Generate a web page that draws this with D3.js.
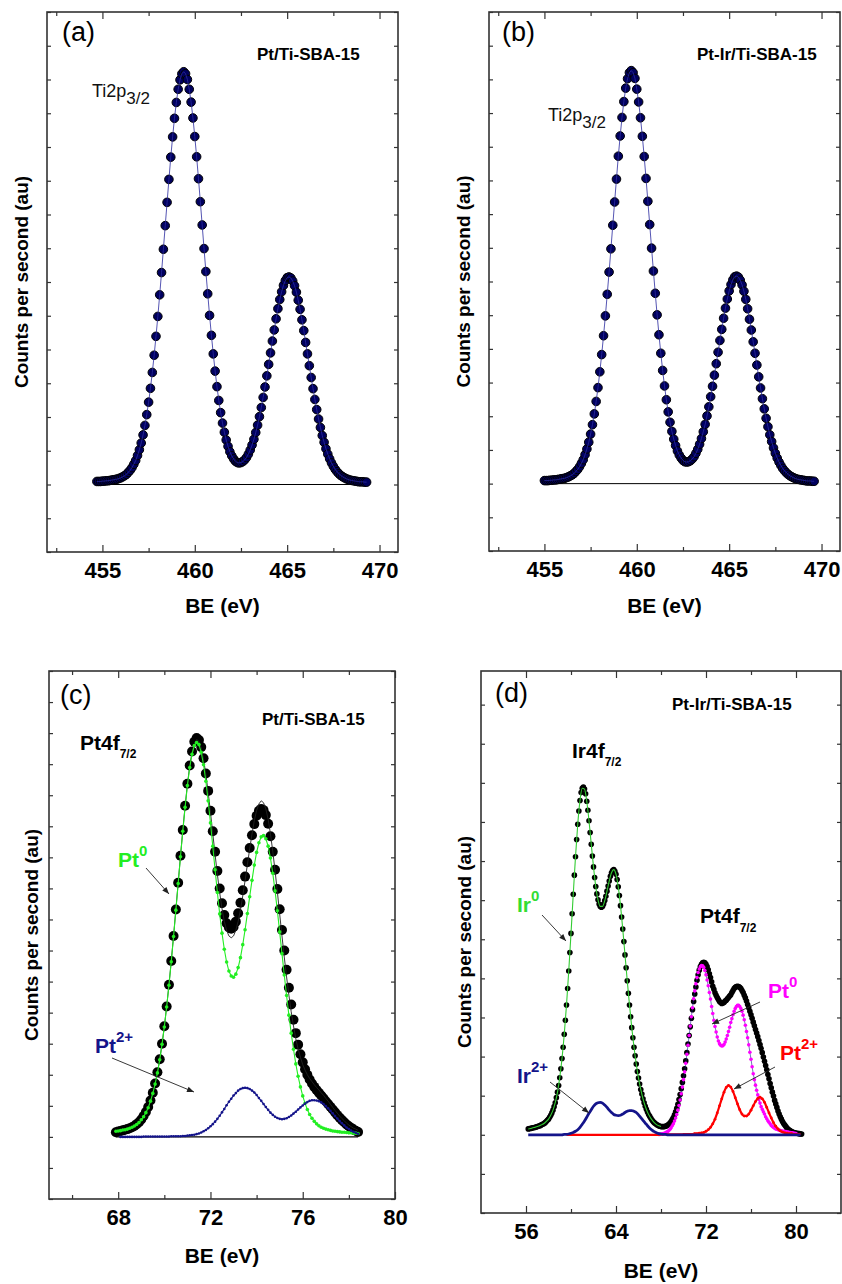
<!DOCTYPE html>
<html>
<head>
<meta charset="utf-8">
<script src="https://cdn.jsdelivr.net/npm/d3@7"></script>
<style>
  html, body { margin: 0; padding: 0; background: #fff; }
  svg { display: block; }
</style>
</head>
<body>
<svg id="chart" width="842" height="1284"></svg>
<script>
// ---- (a) Pt/Ti-SBA-15, Ti2p region: BE grid start/step + counts ----
const beStartA = 454.7, beStepA = 0.1;
const countsA = [
  0.09, 0.09, 0.09, 0.10, 0.10, 0.11, 0.11, 0.12, 0.13, 0.14,
  0.15, 0.16, 0.18, 0.20, 0.23, 0.26, 0.30, 0.36, 0.42, 0.50,
  0.60, 0.71, 0.86, 1.03, 1.23, 1.47, 1.75, 2.07, 2.44, 2.85,
  3.32, 3.83, 4.39, 4.98, 5.62, 6.28, 6.97, 7.67, 8.36, 9.04,
  9.70, 10.30, 10.85, 11.32, 11.71, 11.99, 12.17, 12.23, 12.17, 12.00,
  11.71, 11.33, 10.86, 10.31, 9.71, 9.06, 8.38, 7.69, 6.99, 6.31,
  5.65, 5.01, 4.42, 3.87, 3.36, 2.90, 2.49, 2.13, 1.82, 1.55,
  1.32, 1.13, 0.97, 0.85, 0.76, 0.69, 0.65, 0.64, 0.65, 0.68,
  0.73, 0.80, 0.90, 1.02, 1.17, 1.34, 1.54, 1.76, 2.01, 2.28,
  2.58, 2.89, 3.22, 3.56, 3.90, 4.25, 4.58, 4.91, 5.21, 5.48,
  5.71, 5.90, 6.04, 6.13, 6.15, 6.12, 6.03, 5.89, 5.70, 5.46,
  5.19, 4.88, 4.56, 4.21, 3.87, 3.52, 3.17, 2.84, 2.52, 2.22,
  1.94, 1.69, 1.45, 1.25, 1.06, 0.90, 0.76, 0.64, 0.54, 0.45,
  0.38, 0.32, 0.27, 0.23, 0.20, 0.17, 0.15, 0.13, 0.12, 0.11,
  0.10, 0.09, 0.08, 0.08, 0.08, 0.07, 0.07
];

// ---- (b) Pt-Ir/Ti-SBA-15, Ti2p region ----
const beStartB = 455.0, beStepB = 0.1;
const countsB = [
  0.09, 0.09, 0.09, 0.10, 0.10, 0.11, 0.11, 0.12, 0.13, 0.14,
  0.15, 0.16, 0.18, 0.20, 0.23, 0.26, 0.30, 0.36, 0.42, 0.50,
  0.60, 0.71, 0.86, 1.03, 1.23, 1.47, 1.75, 2.07, 2.44, 2.85,
  3.32, 3.83, 4.39, 4.98, 5.62, 6.28, 6.97, 7.67, 8.36, 9.04,
  9.72, 10.32, 10.87, 11.34, 11.74, 12.02, 12.20, 12.26, 12.20, 12.03,
  11.71, 11.33, 10.86, 10.31, 9.71, 9.06, 8.38, 7.69, 6.99, 6.31,
  5.65, 5.01, 4.42, 3.87, 3.36, 2.90, 2.49, 2.13, 1.82, 1.55,
  1.32, 1.13, 0.97, 0.85, 0.76, 0.69, 0.65, 0.64, 0.65, 0.68,
  0.73, 0.80, 0.90, 1.02, 1.17, 1.34, 1.54, 1.76, 2.01, 2.28,
  2.58, 2.89, 3.22, 3.56, 3.90, 4.25, 4.58, 4.91, 5.21, 5.48,
  5.72, 5.91, 6.05, 6.14, 6.16, 6.13, 6.04, 5.90, 5.71, 5.47,
  5.19, 4.88, 4.56, 4.21, 3.87, 3.52, 3.17, 2.84, 2.52, 2.22,
  1.94, 1.69, 1.45, 1.25, 1.06, 0.90, 0.76, 0.64, 0.54, 0.45,
  0.38, 0.32, 0.27, 0.23, 0.20, 0.17, 0.15, 0.13, 0.12, 0.11,
  0.10, 0.09, 0.08, 0.08, 0.08, 0.07, 0.07
];

// ---- (c) Pt/Ti-SBA-15, Pt4f region ----
const beStartC = 67.9, beStepC = 0.1;
const countsC = [
  0.15, 0.17, 0.19, 0.21, 0.23, 0.25, 0.28, 0.31, 0.35, 0.41,
  0.47, 0.56, 0.67, 0.80, 0.96, 1.17, 1.42, 1.72, 2.08, 2.50,
  3.00, 3.56, 4.20, 4.90, 5.66, 6.47, 7.32, 8.18, 9.05, 9.88,
  10.66, 11.37, 11.96, 12.41, 12.72, 12.84, 12.78, 12.55, 12.19, 11.70,
  11.14, 10.50, 9.84, 9.18, 8.56, 8.00, 7.52, 7.14, 6.88, 6.74,
  6.70, 6.76, 6.93, 7.20, 7.54, 7.94, 8.38, 8.84, 9.30, 9.71,
  10.07, 10.34, 10.50, 10.56, 10.52, 10.36, 10.08, 9.68, 9.18, 8.60,
  7.98, 7.33, 6.66, 6.00, 5.38, 4.80, 4.26, 3.77, 3.34, 2.97,
  2.66, 2.40, 2.18, 2.00, 1.85, 1.72, 1.61, 1.51, 1.42, 1.33,
  1.24, 1.15, 1.06, 0.97, 0.88, 0.79, 0.70, 0.62, 0.54, 0.47,
  0.40, 0.34, 0.29, 0.24, 0.20, 0.16
];
const pt0C = [
  0.18, 0.19, 0.20, 0.22, 0.23, 0.25, 0.28, 0.31, 0.35, 0.40,
  0.46, 0.55, 0.65, 0.78, 0.94, 1.15, 1.40, 1.70, 2.06, 2.48,
  2.98, 3.54, 4.18, 4.88, 5.64, 6.45, 7.30, 8.16, 9.02, 9.84,
  10.61, 11.31, 11.89, 12.32, 12.60, 12.70, 12.63, 12.38, 11.98, 11.45,
  10.82, 10.11, 9.36, 8.60, 7.87, 7.18, 6.56, 6.04, 5.63, 5.34,
  5.18, 5.14, 5.24, 5.45, 5.77, 6.19, 6.67, 7.19, 7.73, 8.26,
  8.75, 9.16, 9.47, 9.66, 9.70, 9.60, 9.36, 8.98, 8.49, 7.92,
  7.28, 6.60, 5.90, 5.21, 4.55, 3.92, 3.34, 2.82, 2.35, 1.95,
  1.61, 1.32, 1.08, 0.88, 0.72, 0.60, 0.50, 0.42, 0.36, 0.31,
  0.28, 0.25, 0.23, 0.21, 0.19, 0.18, 0.17, 0.16, 0.15, 0.15,
  0.14, 0.13, 0.13, 0.12, 0.12, 0.11
];
const pt2StartC = 68.1;
const pt2C = [
  0, 0, 0, 0, 0, 0, 0, 0, 0, 0,
  0.01, 0.01, 0.01, 0.01, 0.01, 0.01, 0.01, 0.01, 0.01, 0.01,
  0.01, 0.01, 0.02, 0.02, 0.02, 0.02, 0.02, 0.03, 0.03, 0.04,
  0.05, 0.06, 0.07, 0.09, 0.11, 0.14, 0.18, 0.22, 0.28, 0.34,
  0.41, 0.49, 0.58, 0.68, 0.79, 0.90, 1.02, 1.13, 1.23, 1.33,
  1.41, 1.49, 1.54, 1.57, 1.58, 1.57, 1.54, 1.49, 1.43, 1.35,
  1.25, 1.16, 1.06, 0.96, 0.87, 0.78, 0.71, 0.65, 0.61, 0.58,
  0.57, 0.58, 0.60, 0.64, 0.69, 0.75, 0.81, 0.88, 0.95, 1.01,
  1.07, 1.12, 1.16, 1.18, 1.18, 1.17, 1.15, 1.11, 1.06, 0.99,
  0.92, 0.84, 0.76, 0.67, 0.59, 0.51, 0.44, 0.37, 0.30, 0.25,
  0.20, 0.16, 0.13, 0.10
];

// ---- (d) Pt-Ir/Ti-SBA-15, Ir4f + Pt4f region ----
const beStartD = 56.2, beStepD = 0.1;
const countsD = [
  0.15, 0.16, 0.16, 0.17, 0.18, 0.18, 0.19, 0.20, 0.21, 0.22,
  0.23, 0.24, 0.26, 0.27, 0.29, 0.31, 0.34, 0.37, 0.40, 0.45,
  0.50, 0.56, 0.63, 0.72, 0.82, 0.95, 1.09, 1.26, 1.46, 1.69,
  1.95, 2.24, 2.57, 2.93, 3.32, 3.74, 4.19, 4.66, 5.15, 5.65,
  6.15, 6.64, 7.11, 7.55, 7.94, 8.28, 8.55, 8.75, 8.86, 8.89,
  8.84, 8.72, 8.53, 8.30, 8.03, 7.73, 7.43, 7.13, 6.85, 6.58,
  6.35, 6.16, 6.01, 5.90, 5.84, 5.82, 5.84, 5.90, 5.99, 6.10,
  6.23, 6.36, 6.49, 6.61, 6.70, 6.76, 6.78, 6.74, 6.66, 6.53,
  6.34, 6.12, 5.86, 5.57, 5.26, 4.94, 4.60, 4.27, 3.94, 3.62,
  3.32, 3.02, 2.74, 2.48, 2.24, 2.02, 1.81, 1.62, 1.45, 1.30,
  1.16, 1.04, 0.92, 0.82, 0.73, 0.65, 0.58, 0.52, 0.47, 0.42,
  0.38, 0.34, 0.31, 0.29, 0.26, 0.25, 0.23, 0.22, 0.21, 0.21,
  0.21, 0.21, 0.22, 0.23, 0.25, 0.27, 0.30, 0.34, 0.39, 0.44,
  0.51, 0.59, 0.68, 0.78, 0.90, 1.03, 1.18, 1.34, 1.51, 1.69,
  1.89, 2.10, 2.32, 2.54, 2.76, 2.98, 3.20, 3.41, 3.60, 3.78,
  3.95, 4.09, 4.21, 4.30, 4.36, 4.40, 4.41, 4.40, 4.36, 4.30,
  4.22, 4.12, 4.02, 3.91, 3.80, 3.72, 3.63, 3.57, 3.51, 3.46,
  3.41, 3.38, 3.36, 3.37, 3.38, 3.42, 3.44, 3.48, 3.51, 3.55,
  3.58, 3.64, 3.69, 3.74, 3.77, 3.79, 3.80, 3.79, 3.77, 3.74,
  3.69, 3.64, 3.57, 3.50, 3.42, 3.33, 3.25, 3.16, 3.07, 2.98,
  2.88, 2.79, 2.69, 2.60, 2.51, 2.41, 2.31, 2.21, 2.10, 1.99,
  1.88, 1.77, 1.66, 1.54, 1.43, 1.31, 1.20, 1.09, 0.99, 0.88,
  0.79, 0.70, 0.61, 0.53, 0.46, 0.40, 0.34, 0.29, 0.25, 0.21,
  0.17, 0.14, 0.12, 0.10, 0.08, 0.07, 0.06, 0.05, 0.04, 0.04,
  0.03, 0.03, 0.02, 0.02
];
const irFitStartD = 56.2, irFitStepD = 0.2;
const irFitD = [
  0.15, 0.16, 0.18, 0.19, 0.21, 0.23, 0.26, 0.29, 0.34, 0.40,
  0.50, 0.63, 0.82, 1.09, 1.46, 1.95, 2.57, 3.32, 4.19, 5.15,
  6.15, 7.11, 7.94, 8.55, 8.86, 8.84, 8.53, 8.03, 7.43, 6.85,
  6.35, 6.01, 5.84, 5.84, 5.99, 6.23, 6.49, 6.70, 6.78, 6.66,
  6.34, 5.86, 5.26, 4.60, 3.94, 3.32, 2.74, 2.24, 1.81, 1.45,
  1.16, 0.92, 0.73, 0.58, 0.47, 0.38, 0.31, 0.26, 0.23, 0.21
];
const ir2StartD = 56.2, ir2StepD = 0.2;
const ir2D = [
  0, 0, 0, 0, 0, 0, 0, 0, 0, 0,
  0, 0, 0, 0, 0, 0, 0.01, 0.01, 0.02, 0.04,
  0.06, 0.09, 0.13, 0.19, 0.27, 0.35, 0.45, 0.55, 0.64, 0.73,
  0.79, 0.82, 0.83, 0.81, 0.76, 0.70, 0.63, 0.57, 0.52, 0.50,
  0.49, 0.50, 0.53, 0.57, 0.60, 0.62, 0.62, 0.60, 0.57, 0.51,
  0.44, 0.37, 0.30, 0.23, 0.17, 0.12, 0.08, 0.05, 0.03, 0.02,
  0.01, 0.01, 0, 0, 0, 0, 0, 0, 0, 0,
  0, 0, 0, 0, 0, 0, 0, 0, 0, 0,
  0, 0, 0, 0, 0, 0, 0, 0, 0, 0,
  0, 0, 0, 0, 0, 0, 0, 0, 0, 0,
  0, 0, 0, 0, 0, 0, 0, 0, 0, 0,
  0, 0, 0, 0, 0, 0, 0, 0, 0, 0,
  0, 0
];
const pt0StartD = 67.8, pt0StepD = 0.1;
const pt0D = [
  0.01, 0.01, 0.02, 0.02, 0.03, 0.04, 0.05, 0.07, 0.08, 0.11,
  0.14, 0.18, 0.23, 0.28, 0.35, 0.43, 0.52, 0.63, 0.75, 0.89,
  1.05, 1.22, 1.41, 1.61, 1.83, 2.06, 2.29, 2.54, 2.78, 3.02,
  3.25, 3.48, 3.68, 3.86, 4.02, 4.15, 4.24, 4.30, 4.33, 4.32,
  4.28, 4.20, 4.09, 3.96, 3.81, 3.64, 3.47, 3.28, 3.10, 2.93,
  2.77, 2.63, 2.50, 2.40, 2.33, 2.29, 2.27, 2.28, 2.31, 2.37,
  2.45, 2.54, 2.64, 2.75, 2.87, 2.97, 3.07, 3.16, 3.23, 3.28,
  3.31, 3.31, 3.28, 3.23, 3.16, 3.06, 2.94, 2.80, 2.64, 2.48,
  2.30, 2.11, 1.93, 1.74, 1.56, 1.41, 1.27, 1.14, 1.02, 0.90,
  0.81, 0.72, 0.65, 0.59, 0.53, 0.46, 0.41, 0.36, 0.32, 0.28,
  0.24, 0.21, 0.19, 0.17, 0.15, 0.14, 0.13, 0.12, 0.11, 0.10,
  0.09, 0.09, 0.08, 0.08, 0.07, 0.07, 0.06, 0.06, 0.05, 0.05,
  0.04, 0.04, 0.03
];
const pt2StartD = 59.6, pt2StepD = 0.2;
const pt2D = [
  0, 0, 0, 0, 0, 0, 0, 0, 0, 0,
  0, 0, 0, 0, 0, 0, 0, 0, 0, 0,
  0, 0, 0, 0, 0, 0, 0, 0, 0, 0,
  0, 0, 0, 0, 0, 0, 0, 0, 0, 0,
  0, 0,
  0.01, 0.01, 0.01, 0.01, 0.01, 0.01, 0.01, 0.01, 0.01, 0.01,
  0.02, 0.02, 0.02, 0.02, 0.02, 0.03, 0.03, 0.04, 0.05, 0.06,
  0.09, 0.13, 0.19, 0.28, 0.40, 0.56, 0.74, 0.92, 1.09, 1.21,
  1.26, 1.22, 1.11, 0.95, 0.79, 0.64, 0.53, 0.48, 0.48, 0.53,
  0.63, 0.74, 0.85, 0.93, 0.96, 0.92, 0.83, 0.70, 0.56, 0.43,
  0.31, 0.22, 0.15, 0.10, 0.07, 0.05, 0.04, 0.03, 0.03, 0.02,
  0.02, 0.02, 0.02
];

// ---- axis ticks ----
const ticksTi = [455, 460, 465, 470];
const minorTi = [452.5, 457.5, 462.5, 467.5];
const ticksC = [68, 72, 76, 80];
const minorC = [66, 70, 74, 78];
const ticksD = [56, 64, 72, 80];
const minorD = [60, 68, 76];

const FONT = '"Liberation Sans", Arial, Helvetica, sans-serif';
const NAVY = '#14148a';
const svg = d3.select('#chart');

const toPoints = (start, step, values) =>
  values.map((v, i) => ({ x: +(start + i * step).toFixed(2), y: v }));

// arrow head
svg.append('defs').append('marker')
  .attr('id', 'arrow')
  .attr('viewBox', '0 0 10 10')
  .attr('refX', 10).attr('refY', 5)
  .attr('markerWidth', 8).attr('markerHeight', 7)
  .attr('markerUnits', 'userSpaceOnUse')
  .attr('orient', 'auto')
  .append('path')
  .attr('d', 'M0,1 L10,5 L0,9 Z')
  .attr('fill', '#222');

function makePanel(p) {
  const g = svg.append('g').attr('transform', `translate(${p.left},${p.top})`);
  const x = d3.scaleLinear().domain(p.xDomain).range([0, p.width]);
  const y = d3.scaleLinear().domain(p.yDomain).range([p.height, 0]);

  const yTicks = d3.range(p.yDomain[0], p.yDomain[1] + 1e-6, 1);
  const clean = sel => {
    sel.select('.domain').remove();
    sel.selectAll('line').attr('stroke', '#333').attr('stroke-width', 1.2);
  };

  // bottom axis, labelled
  g.append('g')
    .attr('transform', `translate(0,${p.height})`)
    .call(d3.axisBottom(x).tickValues(p.xMajor).tickSizeInner(-7).tickSizeOuter(0)
      .tickPadding(10).tickFormat(d3.format('d')))
    .call(clean)
    .call(s => s.selectAll('text')
      .attr('font-size', 22).attr('font-weight', 'bold')
      .attr('font-family', FONT).attr('fill', '#000'));
  g.append('g')
    .attr('transform', `translate(0,${p.height})`)
    .call(d3.axisBottom(x).tickValues(p.xMinor).tickSizeInner(-4).tickSizeOuter(0).tickFormat(''))
    .call(clean);

  // top mirror ticks
  g.append('g')
    .call(d3.axisTop(x).tickValues(p.xMajor).tickSizeInner(-7).tickSizeOuter(0).tickFormat(''))
    .call(clean);
  g.append('g')
    .call(d3.axisTop(x).tickValues(p.xMinor).tickSizeInner(-4).tickSizeOuter(0).tickFormat(''))
    .call(clean);

  // left / right ticks without labels
  g.append('g')
    .call(d3.axisLeft(y).tickValues(yTicks).tickSizeInner(-4).tickSizeOuter(0).tickFormat(''))
    .call(clean);
  g.append('g')
    .attr('transform', `translate(${p.width},0)`)
    .call(d3.axisRight(y).tickValues(yTicks).tickSizeInner(-4).tickSizeOuter(0).tickFormat(''))
    .call(clean);

  g.append('rect')
    .attr('width', p.width).attr('height', p.height)
    .attr('fill', 'none').attr('stroke', '#333').attr('stroke-width', 1.6);

  // axis titles
  g.append('text')
    .attr('x', p.width / 2).attr('y', p.height + p.xTitleGap)
    .attr('text-anchor', 'middle')
    .attr('font-family', FONT).attr('font-size', 21).attr('font-weight', 'bold')
    .text('BE (eV)');
  g.append('text')
    .attr('transform', `translate(${-p.yTitleGap},${p.height / 2}) rotate(-90)`)
    .attr('text-anchor', 'middle')
    .attr('font-family', FONT).attr('font-size', 19).attr('font-weight', 'bold')
    .text('Counts per second (au)');

  return { g, x, y };
}

function plotLine(pn, pts, color, width, curve) {
  pn.g.append('path')
    .datum(pts)
    .attr('fill', 'none')
    .attr('stroke', color)
    .attr('stroke-width', width)
    .attr('d', d3.line().x(d => pn.x(d.x)).y(d => pn.y(d.y)).curve(curve || d3.curveLinear));
}

function plotDots(pn, pts, r, fill, stroke, sw) {
  pn.g.append('g')
    .selectAll('circle')
    .data(pts)
    .join('circle')
    .attr('cx', d => pn.x(d.x))
    .attr('cy', d => pn.y(d.y))
    .attr('r', r)
    .attr('fill', fill)
    .attr('stroke', stroke || 'none')
    .attr('stroke-width', sw || 0);
}

// text with optional sub/superscript parts
function richText(g, x, y, parts, color, weight) {
  const t = g.append('text')
    .attr('x', x).attr('y', y)
    .attr('font-family', FONT)
    .attr('font-weight', weight || 'bold')
    .attr('fill', color || '#000');
  parts.forEach(pt => {
    t.append('tspan').attr('dy', pt.dy || 0).attr('font-size', pt.size).text(pt.text);
  });
  return t;
}

function arrow(g, x1, y1, x2, y2) {
  g.append('line')
    .attr('x1', x1).attr('y1', y1).attr('x2', x2).attr('y2', y2)
    .attr('stroke', '#222').attr('stroke-width', 0.9)
    .attr('marker-end', 'url(#arrow)');
}

function panelLetter(g, x, y, s) {
  g.append('text').attr('x', x).attr('y', y)
    .attr('font-family', FONT).attr('font-size', 27)
    .text(s);
}

// ---------------- (a) ----------------
const pa = makePanel({ left: 47, top: 12, width: 351, height: 540,
  xDomain: [452, 471], yDomain: [-2, 14], xMajor: ticksTi, xMinor: minorTi,
  xTitleGap: 61, yTitleGap: 19 });
const ptsA = toPoints(beStartA, beStepA, countsA);
plotLine(pa, [{ x: ptsA[0].x, y: 0 }, { x: ptsA[ptsA.length - 1].x, y: 0 }], '#000', 1);
plotDots(pa, ptsA, 4.3, '#00005e', '#000', 1);
plotLine(pa, ptsA, '#2a2aa0', 0.8);
panelLetter(pa.g, 15, 29, '(a)');
richText(pa.g, 210, 48, [{ text: 'Pt/Ti-SBA-15', size: 17 }]);
richText(pa.g, 45, 85, [{ text: 'Ti2p', size: 18 }, { text: '3/2', size: 17, dy: 7 }], '#111', 'normal');

// ---------------- (b) ----------------
const pb = makePanel({ left: 489, top: 12, width: 351, height: 539,
  xDomain: [452, 471], yDomain: [-2, 14], xMajor: ticksTi, xMinor: minorTi,
  xTitleGap: 62, yTitleGap: 19 });
const ptsB = toPoints(beStartB, beStepB, countsB);
plotLine(pb, [{ x: ptsB[0].x, y: 0 }, { x: ptsB[ptsB.length - 1].x, y: 0 }], '#000', 1);
plotDots(pb, ptsB, 4.3, '#00005e', '#000', 1);
plotLine(pb, ptsB, '#2a2aa0', 0.8);
panelLetter(pb.g, 13, 29, '(b)');
richText(pb.g, 208, 48, [{ text: 'Pt-Ir/Ti-SBA-15', size: 17 }]);
richText(pb.g, 59, 109, [{ text: 'Ti2p', size: 18 }, { text: '3/2', size: 17, dy: 7 }], '#111', 'normal');

// ---------------- (c) ----------------
const pc = makePanel({ left: 49, top: 671, width: 346, height: 528,
  xDomain: [65, 80], yDomain: [-2, 15], xMajor: ticksC, xMinor: minorC,
  xTitleGap: 64, yTitleGap: 11 });
const ptsC = toPoints(beStartC, beStepC, countsC);
const pt0PtsC = toPoints(beStartC, beStepC, pt0C);
const pt2PtsC = toPoints(pt2StartC, beStepC, pt2C);
const pt2ByX = new Map(pt2PtsC.map(d => [d.x, d.y]));
const envC = pt0PtsC.map(d => ({ x: d.x, y: d.y + (pt2ByX.get(d.x) || 0) }));

plotLine(pc, [{ x: ptsC[0].x, y: 0 }, { x: ptsC[ptsC.length - 1].x, y: 0 }], '#000', 1.2);
plotDots(pc, ptsC, 5, '#000');
plotLine(pc, envC, '#222', 0.9);
plotLine(pc, pt0PtsC, '#22ee22', 1.1);
plotDots(pc, pt0PtsC, 1.8, '#22ee22');
plotLine(pc, pt2PtsC, NAVY, 1.2);
plotDots(pc, pt2PtsC, 1.3, NAVY);

panelLetter(pc.g, 11, 33, '(c)');
richText(pc.g, 213, 54, [{ text: 'Pt/Ti-SBA-15', size: 17 }]);
richText(pc.g, 31, 79, [{ text: 'Pt4f', size: 21 }, { text: '7/2', size: 12, dy: 8 }]);
richText(pc.g, 69, 196, [{ text: 'Pt', size: 21 }, { text: '0', size: 15, dy: -11 }], '#22ee22');
arrow(pc.g, 97, 197, 120, 223);
richText(pc.g, 46, 382, [{ text: 'Pt', size: 21 }, { text: '2+', size: 15, dy: -11 }], NAVY);
arrow(pc.g, 63, 387, 145, 421);

// ---------------- (d) ----------------
const pd = makePanel({ left: 481, top: 671, width: 360, height: 542,
  xDomain: [52, 84], yDomain: [-2, 11.86], xMajor: ticksD, xMinor: minorD,
  xTitleGap: 65, yTitleGap: 10 });
const ptsD = toPoints(beStartD, beStepD, countsD);
const irFitPts = toPoints(irFitStartD, irFitStepD, irFitD);
const ir2Pts = toPoints(ir2StartD, ir2StepD, ir2D);
const pt0PtsD = toPoints(pt0StartD, pt0StepD, pt0D);
const pt2PtsD = toPoints(pt2StartD, pt2StepD, pt2D);

plotDots(pd, ptsD, 2.8, '#000');
plotLine(pd, irFitPts, '#33cc33', 1.1, d3.curveMonotoneX);
plotLine(pd, pt0PtsD, NAVY, 0.6);
plotDots(pd, pt0PtsD, 1.8, '#ff00ff');
plotLine(pd, pt2PtsD, '#ff0000', 2.2, d3.curveMonotoneX);
plotDots(pd, pt2PtsD.filter(d => d.y > 0.02), 1.4, '#ff0000');
plotLine(pd, ir2Pts, NAVY, 2.8, d3.curveMonotoneX);

panelLetter(pd.g, 14, 31, '(d)');
richText(pd.g, 191, 39, [{ text: 'Pt-Ir/Ti-SBA-15', size: 17 }]);
richText(pd.g, 91, 87, [{ text: 'Ir4f', size: 21 }, { text: '7/2', size: 12, dy: 8 }]);
richText(pd.g, 219, 252, [{ text: 'Pt4f', size: 21 }, { text: '7/2', size: 12, dy: 9 }]);
richText(pd.g, 36, 241, [{ text: 'Ir', size: 21 }, { text: '0', size: 15, dy: -11 }], '#33dd33');
arrow(pd.g, 61, 244, 85, 270);
richText(pd.g, 36, 412, [{ text: 'Ir', size: 21 }, { text: '2+', size: 15, dy: -11 }], NAVY);
arrow(pd.g, 69, 411, 108, 442);
richText(pd.g, 287, 327, [{ text: 'Pt', size: 21 }, { text: '0', size: 15, dy: -11 }], '#ff00ff');
arrow(pd.g, 279, 331, 231, 353);
richText(pd.g, 299, 389, [{ text: 'Pt', size: 21 }, { text: '2+', size: 15, dy: -11 }], '#ff0000');
arrow(pd.g, 294, 396, 253, 418);
</script>
</body>
</html>
